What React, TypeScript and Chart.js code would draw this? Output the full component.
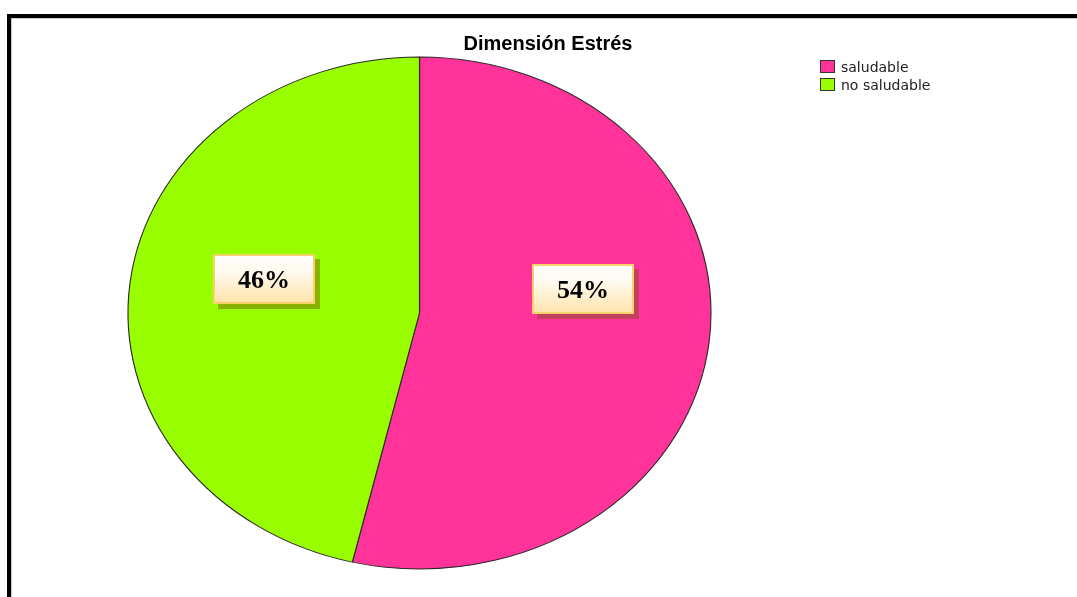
import React, { useEffect, useRef } from "react";
import { Chart, registerables } from "chart.js";

Chart.register(...registerables);

const title = "Dimensión Estrés";
const categories = ["saludable", "no saludable"];
const values = [53.7, 46.3];
const sliceColors = ["#FF3399", "#99FF00"];
const shadowColors = ["#C0405E", "#8AB000"];

const W = 1077;
const H = 597;
const X_STRETCH = 291.5 / 256;

const ellipsePlugin = {
  id: "ellipse",
  beforeDatasetsDraw(chart: any) {
    const arc = chart.getDatasetMeta(0).data[0];
    const ctx = chart.ctx;
    ctx.save();
    ctx.translate(arc.x, arc.y);
    ctx.scale(X_STRETCH, 1);
    ctx.translate(-arc.x, -arc.y);
  },
  afterDatasetsDraw(chart: any) {
    chart.ctx.restore();
  },
};

const framePlugin = {
  id: "frame",
  beforeDraw(chart: any) {
    const ctx = chart.ctx;
    ctx.save();
    ctx.fillStyle = "#ffffff";
    ctx.fillRect(0, 0, W, H);
    ctx.fillStyle = "#000000";
    ctx.fillRect(7, 14, W - 7, 4);
    ctx.fillRect(7, 14, 4, H - 14);
    ctx.fillStyle = "#c8c8c8";
    ctx.fillRect(11, 18, W - 11, 1);
    ctx.fillRect(11, 18, 1, H - 18);
    ctx.restore();
  },
};

const decorPlugin = {
  id: "decor",
  afterDraw(chart: any) {
    const ctx = chart.ctx;
    const meta = chart.getDatasetMeta(0);
    ctx.save();
    // title
    ctx.fillStyle = "#000";
    ctx.font = "bold 20px 'Liberation Sans', Arial, sans-serif";
    ctx.textAlign = "center";
    ctx.textBaseline = "alphabetic";
    ctx.fillText(title, 548, 50);

    // legend
    ctx.font = "14px 'DejaVu Sans', sans-serif";
    ctx.textAlign = "left";
    ctx.textBaseline = "middle";
    categories.forEach((c, i) => {
      const y = 60 + i * 18;
      ctx.fillStyle = sliceColors[i];
      ctx.fillRect(820, y, 15, 13);
      ctx.strokeStyle = "#333";
      ctx.lineWidth = 1;
      ctx.strokeRect(820.5, y + 0.5, 14, 12);
      ctx.fillStyle = "#222";
      ctx.fillText(c, 841, y + 8);
    });

    // value labels
    meta.data.forEach((arc: any, i: number) => {
      const mid = (arc.startAngle + arc.endAngle) / 2;
      const r = arc.outerRadius;
      const cx = arc.x + 4 + Math.cos(mid) * r * 0.55 * X_STRETCH;
      const cy = arc.y - 29 + Math.sin(mid) * r * 0.16;
      const text = Math.round(values[i]) + "%";
      ctx.font = "bold 26px 'Liberation Serif', 'Times New Roman', serif";
      const tw = ctx.measureText(text).width;
      const bw = tw + 50;
      const bh = 50;
      const bx = Math.round(cx - bw / 2);
      const by = Math.round(cy - bh / 2);
      ctx.fillStyle = shadowColors[i];
      ctx.fillRect(bx + 5, by + 5, bw, bh);
      const g = ctx.createLinearGradient(0, by, 0, by + bh);
      g.addColorStop(0, "#ffffff");
      g.addColorStop(0.35, "#fffaf0");
      g.addColorStop(1, "#ffe2a8");
      ctx.fillStyle = g;
      ctx.fillRect(bx, by, bw, bh);
      ctx.strokeStyle = "#f7d36a";
      ctx.lineWidth = 2;
      ctx.strokeRect(bx + 1, by + 1, bw - 2, bh - 2);
      ctx.fillStyle = "#000";
      ctx.textAlign = "center";
      ctx.textBaseline = "middle";
      ctx.fillText(text, bx + bw / 2, by + bh / 2 + 2);
    });
    ctx.restore();
  },
};

export default function App() {
  const ref = useRef<HTMLCanvasElement>(null);
  useEffect(() => {
    if (!ref.current) return;
    const chart = new Chart(ref.current, {
      type: "pie",
      data: {
        labels: categories,
        datasets: [
          {
            data: values,
            backgroundColor: sliceColors,
            borderColor: "#2a2a2a",
            borderWidth: 1,
            hoverOffset: 0,
          },
        ],
      },
      options: {
        responsive: false,
        animation: false,
        events: [],
        layout: { padding: { top: 56, bottom: 27, left: 163, right: 401 } },
        plugins: {
          legend: { display: false },
          title: { display: false },
          tooltip: { enabled: false },
        },
      },
      plugins: [framePlugin, ellipsePlugin, decorPlugin],
    });
    return () => chart.destroy();
  }, []);
  return (
    <div style={{ position: "absolute", left: 0, top: 0, width: W, height: H }}>
      <canvas ref={ref} width={W} height={H} style={{ display: "block", width: W, height: H }} />
    </div>
  );
}
